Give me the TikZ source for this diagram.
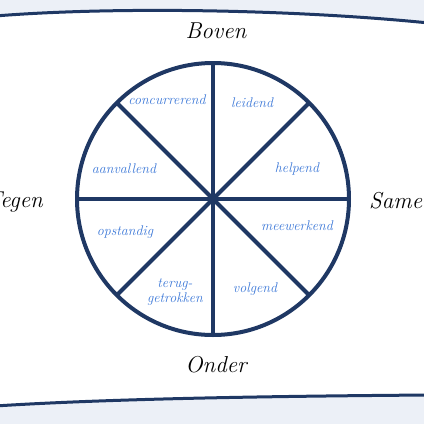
\documentclass[tikz,border=0pt]{standalone}
\usepackage{fontspec}
\definecolor{navy}{HTML}{1F3864}
\definecolor{lbl}{HTML}{3C78D8}
\definecolor{bg}{HTML}{ECF0F7}
\begin{document}
\begin{tikzpicture}[x=1pt,y={(0pt,-1pt)},
  seg/.style={text=lbl, font=\fontsize{14}{15}\selectfont\itshape, anchor=base, inner sep=0},
  dir/.style={text=black, font=\fontsize{23}{25}\selectfont\itshape, anchor=base, inner sep=0},
  spoke/.style={draw=navy, line width=4pt}]
\useasboundingbox (0,0) rectangle (424,424);
\clip (0,0) rectangle (424,424);
\fill[bg] (0,0) rectangle (424,424);
\draw[navy, line width=3pt, fill=white] (-5,16) .. controls (120,6) and (300,10) .. (429,23) -- (440,23) -- (440,395) -- (429,395) .. controls (300,396) and (120,398) .. (-5,406) -- (-16,406) -- (-16,16) -- cycle;
\node[circle, draw=navy, line width=4pt, minimum size=272pt, inner sep=0, outer sep=0] (wheel) at (213,199) {};
\foreach \a in {0,45,...,315} \draw[spoke] (wheel.center) -- (wheel.\a);
\node[seg] (conc) at (167,104) {concurrerend};
\node[seg] (leid) at (252,107) {leidend};
\node[seg] (aanv) at (124,173) {aanvallend};
\node[seg] (help) at (297,172) {helpend};
\node[seg] (opst) at (125,235) {opstandig};
\node[seg] (meew) at (297,230) {meewerkend};
\node[seg, anchor=center, align=center] (teru) at (175,292) {terug-\\getrokken};
\node[seg] (volg) at (255,292) {volgend};
\node[dir] (boven) at (216,38) {Boven};
\node[dir] (onder) at (216,372) {Onder};
\node[dir, anchor=base east] (tegen) at (43,207) {Tegen};
\node[dir, anchor=base west] (samen) at (369,208) {Samen};
\end{tikzpicture}
\end{document}
